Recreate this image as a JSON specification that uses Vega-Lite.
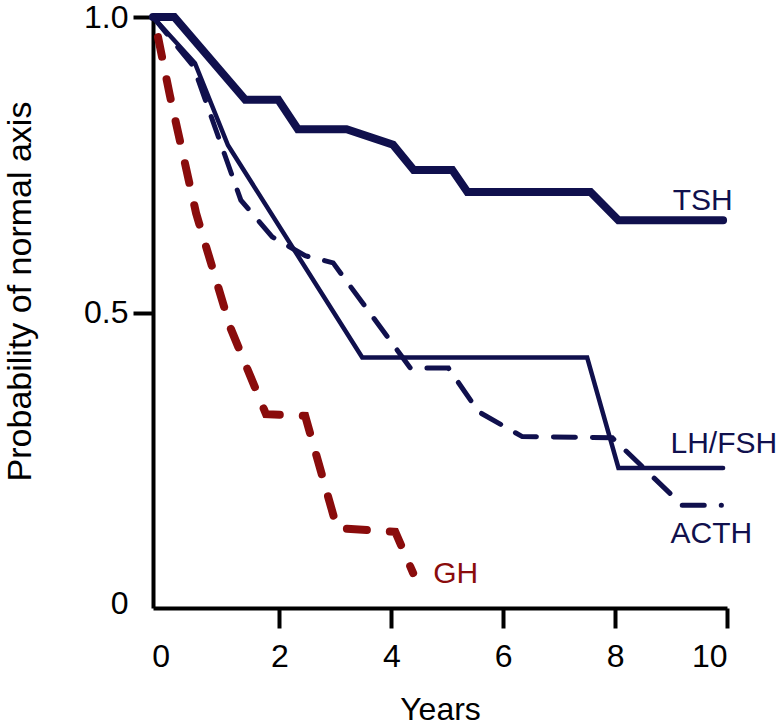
{
  "$schema": "https://vega.github.io/schema/vega-lite/v6.json",
  "width": 574,
  "height": 591,
  "autosize": "none",
  "padding": {"left": 153, "top": 17, "right": 53, "bottom": 120},
  "background": "white",
  "config": {
    "view": {"stroke": null},
    "font": "Liberation Sans",
    "axis": {
      "grid": false,
      "domainColor": "black",
      "domainWidth": 4,
      "tickColor": "black",
      "tickWidth": 4,
      "tickSize": 20,
      "labelFont": "Liberation Sans",
      "labelFontSize": 32,
      "labelColor": "black",
      "titleFont": "Liberation Sans",
      "titleFontWeight": "normal",
      "titleColor": "black",
      "tickOpacity": {"condition": {"test": "datum.value == 0", "value": 0}, "value": 1}
    }
  },
  "datasets": {
    "curves": [
      {"series": "TSH", "years": -0.26, "p": 1.0},
      {"series": "TSH", "years": 0.12, "p": 1.0},
      {"series": "TSH", "years": 1.39, "p": 0.86},
      {"series": "TSH", "years": 1.98, "p": 0.86},
      {"series": "TSH", "years": 2.33, "p": 0.81},
      {"series": "TSH", "years": 3.2, "p": 0.81},
      {"series": "TSH", "years": 4.03, "p": 0.784},
      {"series": "TSH", "years": 4.4, "p": 0.741},
      {"series": "TSH", "years": 5.09, "p": 0.741},
      {"series": "TSH", "years": 5.36, "p": 0.704},
      {"series": "TSH", "years": 7.56, "p": 0.704},
      {"series": "TSH", "years": 8.06, "p": 0.656},
      {"series": "TSH", "years": 9.93, "p": 0.656},
      {"series": "LH/FSH", "years": -0.26, "p": 1.0},
      {"series": "LH/FSH", "years": 0.49, "p": 0.922},
      {"series": "LH/FSH", "years": 1.08, "p": 0.783},
      {"series": "LH/FSH", "years": 3.48, "p": 0.424},
      {"series": "LH/FSH", "years": 7.5, "p": 0.424},
      {"series": "LH/FSH", "years": 8.06, "p": 0.237},
      {"series": "LH/FSH", "years": 9.93, "p": 0.237},
      {"series": "ACTH", "years": -0.26, "p": 1.0},
      {"series": "ACTH", "years": 0.46, "p": 0.917},
      {"series": "ACTH", "years": 1.31, "p": 0.69},
      {"series": "ACTH", "years": 1.87, "p": 0.628},
      {"series": "ACTH", "years": 2.46, "p": 0.596},
      {"series": "ACTH", "years": 2.96, "p": 0.584},
      {"series": "ACTH", "years": 4.34, "p": 0.406},
      {"series": "ACTH", "years": 5.02, "p": 0.406},
      {"series": "ACTH", "years": 5.56, "p": 0.332},
      {"series": "ACTH", "years": 6.34, "p": 0.29},
      {"series": "ACTH", "years": 7.95, "p": 0.288},
      {"series": "ACTH", "years": 9.2, "p": 0.174},
      {"series": "ACTH", "years": 9.9, "p": 0.174},
      {"series": "GH", "years": -0.17, "p": 0.966},
      {"series": "GH", "years": 0.04, "p": 0.868},
      {"series": "GH", "years": 0.51, "p": 0.668},
      {"series": "GH", "years": 1.12, "p": 0.475},
      {"series": "GH", "years": 1.76, "p": 0.328},
      {"series": "GH", "years": 2.46, "p": 0.325},
      {"series": "GH", "years": 3.03, "p": 0.135},
      {"series": "GH", "years": 4.07, "p": 0.129},
      {"series": "GH", "years": 4.39, "p": 0.059}
    ],
    "labels": [
      {"series": "TSH", "years": 9.03, "p": 0.673, "col": "navy"},
      {"series": "LH/FSH", "years": 8.99, "p": 0.262, "col": "navy"},
      {"series": "ACTH", "years": 8.99, "p": 0.11, "col": "navy"},
      {"series": "GH", "years": 4.75, "p": 0.042, "col": "red"}
    ]
  },
  "encoding": {
    "x": {
      "field": "years", "type": "quantitative",
      "scale": {"domain": [-0.26, 10], "nice": false, "zero": false},
      "axis": {
        "title": "Years", "titleFontSize": 32, "titleBaseline": "alphabetic", "titleY": 111,
        "values": [0, 2, 4, 6, 8, 10], "format": "d", "labelPadding": 13,
        "labelOffset": {"condition": {"test": "datum.value == 0", "value": -7}, "value": 0}
      }
    },
    "y": {
      "field": "p", "type": "quantitative",
      "scale": {"domain": [0, 1], "nice": false},
      "axis": {
        "title": "Probability of normal axis", "titleFontSize": 34,
        "titleBaseline": "alphabetic", "titleX": -123, "titleY": 274, "titleAlign": "center", "titleAngle": -90,
        "values": [0, 0.5, 1], "labelPadding": 5,
        "labelExpr": "datum.value == 0 ? '0' : format(datum.value, '.1f')",
        "labelOffset": {"condition": {"test": "datum.value == 0", "value": -5}, "value": 0}
      }
    }
  },
  "layer": [
    {
      "data": {"name": "curves"},
      "transform": [{"filter": "datum.series == 'TSH'"}],
      "mark": {"type": "line", "color": "#10104d", "strokeWidth": 8, "strokeCap": "round", "strokeJoin": "miter", "clip": false}
    },
    {
      "data": {"name": "curves"},
      "transform": [{"filter": "datum.series == 'LH/FSH'"}],
      "mark": {"type": "line", "color": "#10104d", "strokeWidth": 4.5, "strokeCap": "round", "strokeJoin": "miter", "clip": false}
    },
    {
      "data": {"name": "curves"},
      "transform": [{"filter": "datum.series == 'ACTH'"}],
      "mark": {"type": "line", "color": "#10104d", "strokeWidth": 5, "strokeDash": [22, 17], "strokeCap": "round", "strokeJoin": "miter", "clip": false}
    },
    {
      "data": {"name": "curves"},
      "transform": [{"filter": "datum.series == 'GH'"}],
      "mark": {"type": "line", "color": "#8a0c0c", "strokeWidth": 8, "strokeDash": [20, 23], "strokeCap": "round", "strokeJoin": "miter", "clip": false}
    },
    {
      "data": {"name": "labels"},
      "mark": {"type": "text", "align": "left", "baseline": "alphabetic", "fontSize": 30, "font": "Liberation Sans", "clip": false},
      "encoding": {
        "text": {"field": "series"},
        "color": {
          "field": "col", "type": "nominal", "legend": null,
          "scale": {"domain": ["navy", "red"], "range": ["#10104d", "#8a0c0c"]}
        }
      }
    }
  ]
}
